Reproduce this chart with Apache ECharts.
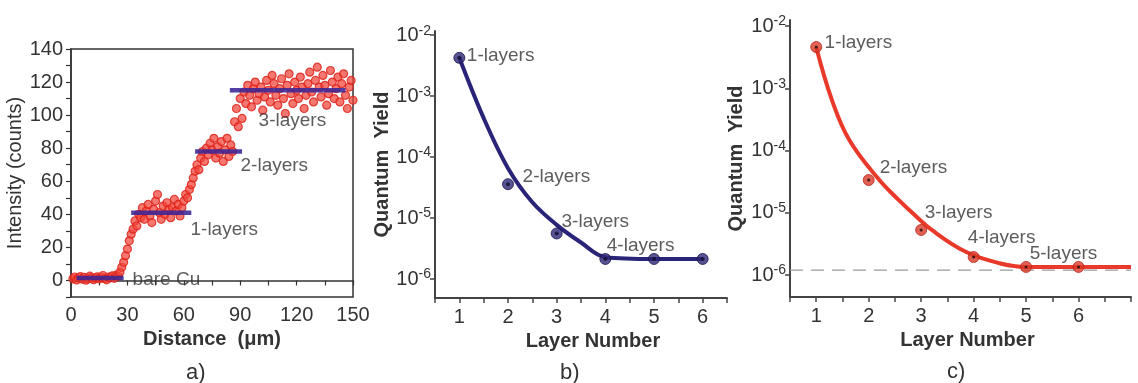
<!DOCTYPE html>
<html><head><meta charset="utf-8">
<script src="https://cdn.jsdelivr.net/npm/echarts@6/dist/echarts.min.js"></script>
<style>html,body{margin:0;padding:0;background:#fff}#c{width:1138px;height:383px}</style>
</head><body><div id="c"></div>
<script>
// ---------- Panel a: intensity profile ----------
const distance = [1,2,3,4,5,6,7,8,9,10,11,12,13,14,15,16,17,18,19,20,21,22,23,24,25,
26,27,28,29,30,31,32,33,34,35,36,37,38,39,40,41,42,43,44,45,46,47,48,49,50,
51,52,53,54,55,56,57,58,59,60,61,62,63,64,65,66,67,68,69,70,71,72,73,74,75,
76,77,78,79,80,81,82,83,84,85,86,87,88,89,90,91,92,93,94,95,96,97,98,99,100,
101,102,103,104,105,106,107,108,109,110,111,112,113,114,115,116,117,118,119,120,
121,122,123,124,125,126,127,128,129,130,131,132,133,134,135,136,137,138,139,140,
141,142,143,144,145,146,147,148,149,150];
const intensity = [1.0,2.1,0.3,1.5,2.4,0.8,1.9,0.2,1.2,2.6,1.7,0.5,1.4,2.2,0.9,1.8,3.0,1.1,0.4,2.0,1.6,2.8,1.3,3.2,2.5,
5,8,11,15,19,24,28,31,36,33,40,38,44,37,42,46,39,35,43,48,52,41,37,45,40,
47,43,38,44,49,42,46,39,44,48,52,50,55,58,62,66,70,67,74,78,72,80,76,83,79,
86,74,81,77,84,72,79,86,75,82,78,96,104,93,110,98,114,107,118,112,105,116,120,109,113,
117,103,111,121,115,108,124,119,112,106,116,122,110,101,118,125,113,107,120,115,
110,123,117,104,112,119,126,114,108,121,129,117,111,124,118,106,113,127,120,110,
116,123,108,119,125,112,104,117,121,109];
const levelNames = ['bare Cu','1-layers','2-layers','3-layers'];
const levelValues = [1.5, 41, 78, 115];
const levelStart = [3, 32, 66, 84.5];
const levelEnd = [28, 64, 91, 146];
const aXTicks = [0, 30, 60, 90, 120, 150];
const aYTicks = [0, 20, 40, 60, 80, 100, 120, 140];

// ---------- Panel b: quantum yield ----------
const layerNumbers = [1, 2, 3, 4, 5, 6];
const layerNames = ['1-layers','2-layers','3-layers','4-layers','5-layers','6-layers'];
const bYield = [4.25e-3, 3.6e-5, 5.6e-6, 2.14e-6, 2.14e-6, 2.14e-6];
const bFitX = [1, 1.5, 2, 2.5, 3, 3.5, 4, 5, 6];
const bFitY = [4.27e-3, 4.37e-4, 6.6e-5, 1.82e-5, 7.76e-6, 3.98e-6, 2.29e-6, 2.14e-6, 2.14e-6];

// ---------- Panel c: quantum yield ----------
const cYield = [4.6e-3, 3.36e-5, 5.3e-6, 1.95e-6, 1.35e-6, 1.35e-6];
const cFitX = [1, 1.3, 1.63, 2.2, 2.58, 2.83, 3.21, 3.86, 4.49, 5, 6, 7];
const cFitY = [4.57e-3, 6.46e-4, 1.48e-4, 3.39e-5, 1.58e-5, 1.0e-5, 5.25e-6, 2.34e-6, 1.55e-6, 1.35e-6, 1.35e-6, 1.35e-6];
const cLimitX = [0.5, 7];
const cLimit = 1.2e-6;

const F = 'Arial, "Liberation Sans", sans-serif';
const TXT = '#333';
const zip = (xs, ys) => xs.map((x, i) => [x, ys[i]]);

const logFmt = v => {
  const e = Math.log10(v), r = Math.round(e);
  if (Math.abs(e - r) > 1e-3) return '';
  return '{b|10}{s|' + r + '}';
};
const logRich = {
  b: {fontSize: 20, color: TXT, fontFamily: F},
  s: {fontSize: 14, color: TXT, fontFamily: F, padding: [0, 0, 9, 0]}
};
const nameStyleBold = {fontSize: 20, fontWeight: 'bold', color: TXT, fontFamily: F};
const lineAxis = {lineStyle: {color: '#444', width: 2}};

function labelSeries(xi, yi, items) {
  return {
    type: 'scatter', xAxisIndex: xi, yAxisIndex: yi, symbolSize: 1, silent: true, z: 20,
    itemStyle: {color: 'rgba(0,0,0,0)'},
    label: {show: true, position: 'right', distance: 0, color: TXT, fontSize: 19, fontFamily: F,
            formatter: p => p.data.name},
    data: items
  };
}

const option = {
  animation: false,
  backgroundColor: '#fff',
  textStyle: {fontFamily: F},
  grid: [
    {left: 71, top: 49, width: 282, height: 248, show: true, borderColor: '#333', borderWidth: 1.5, backgroundColor: 'transparent', outerBoundsMode: 'none'},
    {left: 435, top: 31, width: 292, height: 267, outerBoundsMode: 'none'},
    {left: 790, top: 20, width: 341, height: 277, outerBoundsMode: 'none'}
  ],
  xAxis: [
    {gridIndex: 0, type: 'value', min: 0, max: 150, interval: 15,
     axisLine: {show: true, lineStyle: {color: '#333', width: 1.5}},
     axisTick: {show: true, length: 5, lineStyle: {color: '#333', width: 1.2}},
     axisLabel: {interval: 0, margin: 8, fontSize: 20, color: TXT, fontFamily: F,
                 formatter: v => aXTicks.includes(v) ? String(v) : ''},
     splitLine: {show: false},
     name: 'Distance  (\u03bcm)', nameLocation: 'middle', nameGap: 30, nameTextStyle: nameStyleBold},
    {gridIndex: 1, type: 'value', min: 0.5, max: 6.5, interval: 0.5,
     axisLine: lineAxis,
     axisTick: {show: true, length: 5, lineStyle: {color: '#444', width: 1.5}},
     axisLabel: {interval: 0, margin: 9, fontSize: 20, color: TXT, fontFamily: F,
                 formatter: v => layerNumbers.includes(v) ? String(v) : ''},
     splitLine: {show: false},
     name: 'Layer Number', nameLocation: 'middle', nameGap: 29, nameTextStyle: Object.assign({padding: [0, 0, 0, 24]}, nameStyleBold)},
    {gridIndex: 2, type: 'value', min: 0.5, max: 7, interval: 0.5,
     axisLine: lineAxis,
     axisTick: {show: true, length: 5, lineStyle: {color: '#444', width: 1.5}},
     axisLabel: {interval: 0, margin: 9, fontSize: 20, color: TXT, fontFamily: F,
                 formatter: v => layerNumbers.includes(v) ? String(v) : ''},
     splitLine: {show: false},
     name: 'Layer Number', nameLocation: 'middle', nameGap: 29, nameTextStyle: Object.assign({padding: [0, 0, 0, 14]}, nameStyleBold)}
  ],
  yAxis: [
    {gridIndex: 0, type: 'value', min: -10, max: 140, interval: 10,
     axisLine: {show: true, lineStyle: {color: '#333', width: 1.5}},
     axisTick: {show: true, length: 5, lineStyle: {color: '#333', width: 1.2}},
     axisLabel: {interval: 0, margin: 8, fontSize: 20, color: TXT, fontFamily: F,
                 formatter: v => aYTicks.includes(v) ? String(v) : ''},
     splitLine: {show: false},
     name: 'Intensity (counts)', nameLocation: 'middle', nameGap: 40,
     nameTextStyle: {fontSize: 20, color: TXT, fontFamily: F}},
    {gridIndex: 1, type: 'log', logBase: 10, min: 4.9e-7, max: 1.17e-2,
     axisLine: lineAxis,
     axisTick: {show: true, length: 5, lineStyle: {color: '#444', width: 1.5}},
     axisLabel: {margin: 4, formatter: logFmt, rich: logRich, showMinLabel: false, showMaxLabel: false},
     splitLine: {show: false}, minorTick: {show: false},
     name: 'Quantum  Yield', nameLocation: 'middle', nameGap: 40, nameTextStyle: nameStyleBold},
    {gridIndex: 2, type: 'log', logBase: 10, min: 4.44e-7, max: 1.25e-2,
     axisLine: lineAxis,
     axisTick: {show: true, length: 5, lineStyle: {color: '#444', width: 1.5}},
     axisLabel: {margin: 4, formatter: logFmt, rich: logRich, showMinLabel: false, showMaxLabel: false},
     splitLine: {show: false}, minorTick: {show: false},
     name: 'Quantum  Yield', nameLocation: 'middle', nameGap: 44, nameTextStyle: nameStyleBold}
  ],
  graphic: [
    {type: 'text', left: 186, top: 362, style: {text: 'a)', fontSize: 22, fill: TXT, fontFamily: F}},
    {type: 'text', left: 560, top: 362, style: {text: 'b)', fontSize: 22, fill: TXT, fontFamily: F}},
    {type: 'text', left: 947, top: 361, style: {text: 'c)', fontSize: 22, fill: TXT, fontFamily: F}}
  ],
  series: [
    // panel a
    {type: 'scatter', xAxisIndex: 0, yAxisIndex: 0, data: zip(distance, intensity),
     symbol: 'circle', symbolSize: 8, z: 2,
     itemStyle: {color: 'rgba(242,70,60,0.92)', borderColor: '#dc1f17', borderWidth: 1.2}},
    ...levelValues.map((v, i) => ({
      type: 'line', xAxisIndex: 0, yAxisIndex: 0, symbol: 'none', z: 5, silent: true,
      lineStyle: {color: '#3a2696', width: 4.5, opacity: 0.88},
      data: [[levelStart[i], v], [levelEnd[i], v]]
    })),
    labelSeries(0, 0, [
      {name: levelNames[0], value: [32.5, 0.6]},
      {name: levelNames[1], value: [63.3, 30.4]},
      {name: levelNames[2], value: [89.9, 69.4]},
      {name: levelNames[3], value: [99.5, 96.8]}
    ]),
    // panel b
    {type: 'line', xAxisIndex: 1, yAxisIndex: 1, data: zip(bFitX, bFitY), smooth: 0.35, symbol: 'none', z: 3,
     lineStyle: {color: '#2a2478', width: 4}},
    {type: 'scatter', xAxisIndex: 1, yAxisIndex: 1, data: zip(layerNumbers, bYield), symbolSize: 11, z: 4,
     itemStyle: {color: '#2e2878', borderColor: '#17124a', borderWidth: 1}},
    {type: 'scatter', xAxisIndex: 1, yAxisIndex: 1, data: zip(layerNumbers, bYield), symbolSize: 4, z: 5,
     itemStyle: {color: '#100c30'}},
    labelSeries(1, 1, [
      {name: layerNames[0], value: [1.144, 4.53e-3]},
      {name: layerNames[1], value: [2.29, 4.68e-5]},
      {name: layerNames[2], value: [3.09, 8.6e-6]},
      {name: layerNames[3], value: [4.02, 3.47e-6]}
    ]),
    // panel c
    {type: 'line', xAxisIndex: 2, yAxisIndex: 2, data: zip(cLimitX, [cLimit, cLimit]), symbol: 'none', z: 2, silent: true,
     lineStyle: {color: '#9a9a9a', type: [13, 8], width: 1.2}},
    {type: 'line', xAxisIndex: 2, yAxisIndex: 2, data: zip(cFitX, cFitY), smooth: 0.4, symbol: 'none', z: 3,
     lineStyle: {color: '#e8392a', width: 4}},
    {type: 'scatter', xAxisIndex: 2, yAxisIndex: 2, data: zip(layerNumbers, cYield), symbolSize: 11, z: 4,
     itemStyle: {color: '#d93a2b', borderColor: '#b82418', borderWidth: 1}},
    {type: 'scatter', xAxisIndex: 2, yAxisIndex: 2, data: zip(layerNumbers, cYield), symbolSize: 3, z: 5,
     itemStyle: {color: '#1a0a08'}},
    labelSeries(2, 2, [
      {name: layerNames[0], value: [1.15, 5.33e-3]},
      {name: layerNames[1], value: [2.2, 5.2e-5]},
      {name: layerNames[2], value: [3.06, 9.9e-6]},
      {name: layerNames[3], value: [3.88, 3.93e-6]},
      {name: layerNames[4], value: [5.06, 2.17e-6]}
    ])
  ]
};
const chart = echarts.init(document.getElementById('c'), null, {renderer: 'canvas'});
chart.setOption(option);
</script></body></html>
